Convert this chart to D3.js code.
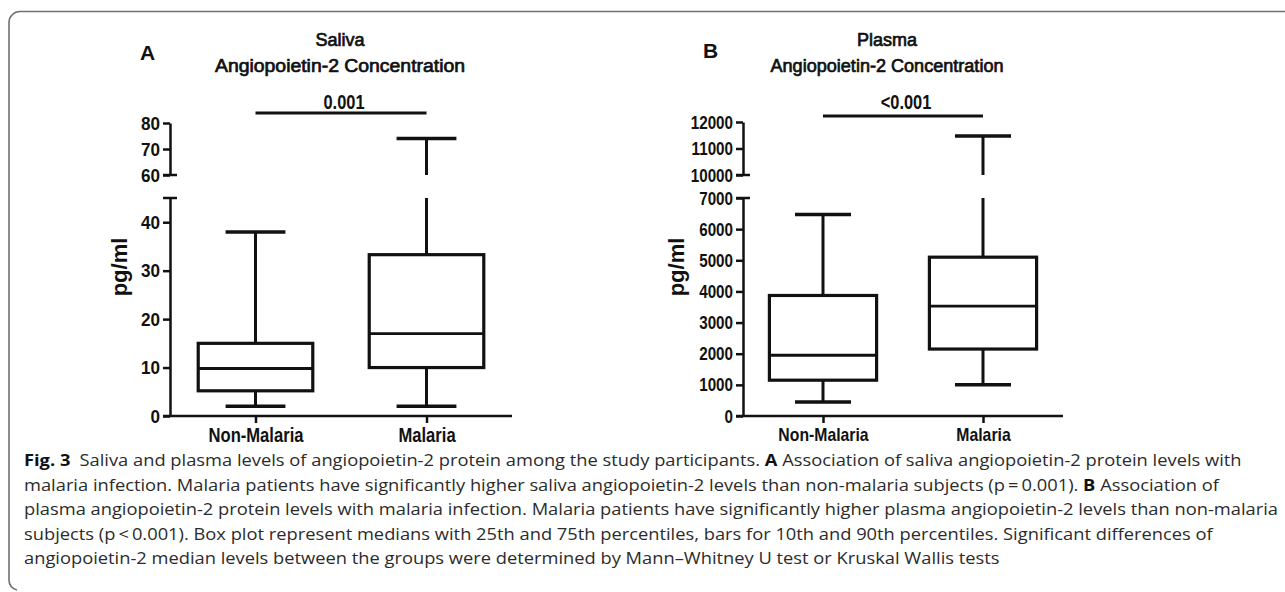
<!DOCTYPE html>
<html>
<head>
<meta charset="utf-8">
<script src="https://cdn.jsdelivr.net/npm/d3@7"></script>
<style>
  html, body { margin: 0; padding: 0; background: #fff; }
  svg { display: block; }
  .tick text, .cat, .sig { font-family: "Liberation Sans", Arial, sans-serif; font-weight: bold; fill: #111; }
  .title { font-family: "Liberation Sans", Arial, sans-serif; fill: #111; stroke: #111; stroke-width: 0.7px; }
  .letter { font-family: "Liberation Sans", Arial, sans-serif; font-weight: bold; fill: #111; }
  .ylabel { font-family: "Liberation Sans", Arial, sans-serif; font-weight: bold; fill: #111; }
  .caption { font-family: "Open Sans", "Noto Sans", sans-serif; fill: #2b2b2b; }
</style>
</head>
<body>
<div id="chart"></div>
<script>
// data
const categories = ['Non-Malaria', 'Malaria'];

const salivaP10 = [2, 2];
const salivaQ1 = [5.2, 10];
const salivaMedian = [9.8, 17];
const salivaQ3 = [15, 33.3];
const salivaP90 = [38, 74];
const salivaLowTicks = [0, 10, 20, 30, 40];
const salivaLowMax = 45;
const salivaHighTicks = [60, 70, 80];
const salivaPValue = '0.001';

const plasmaP10 = [450, 1000];
const plasmaQ1 = [1150, 2150];
const plasmaMedian = [1950, 3530];
const plasmaQ3 = [3870, 5100];
const plasmaP90 = [6470, 11470];
const plasmaLowTicks = [0, 1000, 2000, 3000, 4000, 5000, 6000, 7000];
const plasmaLowMax = 7000;
const plasmaHighTicks = [10000, 11000, 12000];
const plasmaPValue = '<0.001';

const captionLines = [
  [['Fig. 3', true], ['\u2002Saliva and plasma levels of angiopoietin-2 protein among the study participants. ', false], ['A', true], [' Association of saliva angiopoietin-2 protein levels with', false]],
  [['malaria infection. Malaria patients have significantly higher saliva angiopoietin-2 levels than non-malaria subjects (p\u2009=\u20090.001). ', false], ['B', true], [' Association of', false]],
  [['plasma angiopoietin-2 protein levels with malaria infection. Malaria patients have significantly higher plasma angiopoietin-2 levels than non-malaria', false]],
  [['subjects (p\u2009<\u20090.001). Box plot represent medians with 25th and 75th percentiles, bars for 10th and 90th percentiles. Significant differences of', false]],
  [['angiopoietin-2 median levels between the groups were determined by Mann\u2013Whitney U test or Kruskal Wallis tests', false]]
];

const W = 1285, H = 592;

const panels = [
  {
    letter: 'A', letterX: 140, letterY: 60,
    title: ['Saliva', 'Angiopoietin-2 Concentration'], titleX: 340, titleW: 250,
    axisX: 170, axisEnd: 512, tickFont: 19, tickSqueeze: 0.9, catFont: 20,
    p10: salivaP10, q1: salivaQ1, med: salivaMedian, q3: salivaQ3, p90: salivaP90,
    lowTicks: salivaLowTicks, lowMax: salivaLowMax, highTicks: salivaHighTicks,
    highTop: 123, sigY: 113, pValue: salivaPValue, ylabelX: 127
  },
  {
    letter: 'B', letterX: 703, letterY: 58,
    title: ['Plasma', 'Angiopoietin-2 Concentration'], titleX: 887, titleW: 233,
    axisX: 743, axisEnd: 1063, tickFont: 19, tickSqueeze: 0.8, catFont: 19,
    p10: plasmaP10, q1: plasmaQ1, med: plasmaMedian, q3: plasmaQ3, p90: plasmaP90,
    lowTicks: plasmaLowTicks, lowMax: plasmaLowMax, highTicks: plasmaHighTicks,
    highTop: 122, sigY: 116, pValue: plasmaPValue, ylabelX: 684
  }
];

const baseY = 416,
      lowTop = 198,
      highBottom = 175;

let $svg = d3.select('#chart').append('svg')
  .attr('width', W)
  .attr('height', H);

// no narrow face installed, so squeeze the glyphs instead
function condense($sel, k) {
  $sel.each(function() {
    const w = this.getComputedTextLength();
    d3.select(this)
      .attr('textLength', w * k)
      .attr('lengthAdjust', 'spacingAndGlyphs');
  });
}

// frame
$svg.append('path')
  .attr('d', `M${W} 11.5 H20 A11 11 0 0 0 9 22.5 V580 A10 10 0 0 0 17 590`)
  .attr('fill', 'none')
  .attr('stroke', '#6f6f6f')
  .attr('stroke-width', 1.6);

function drawPanel(p) {
  const $g = $svg.append('g');

  const xScale = d3.scalePoint()
    .domain(categories)
    .range([p.axisX, p.axisEnd])
    .padding(0.5);
  const step = xScale.step();

  const yLow = d3.scaleLinear()
    .domain([0, p.lowMax])
    .range([baseY, lowTop]);

  const yHigh = d3.scaleLinear()
    .domain([p.highTicks[0], p.highTicks[p.highTicks.length - 1]])
    .range([highBottom, p.highTop]);

  const y = v => v > p.lowMax ? yHigh(v) : yLow(v);

  // titles
  $g.append('text')
    .attr('class', 'letter')
    .attr('x', p.letterX)
    .attr('y', p.letterY)
    .style('font-size', '21px')
    .text(p.letter);

  p.title.forEach((t, i) => {
    const $t = $g.append('text')
      .attr('class', 'title')
      .attr('x', p.titleX)
      .attr('y', i === 0 ? 46 : 72)
      .attr('text-anchor', 'middle')
      .style('font-size', '18px')
      .text(t);
    if (i === 1) $t.attr('textLength', p.titleW).attr('lengthAdjust', 'spacingAndGlyphs');
  });

  // lower y axis
  const $yLow = $g.append('g')
    .attr('transform', `translate(${p.axisX},0)`)
    .call(d3.axisLeft(yLow).tickValues(p.lowTicks).tickSize(7).tickSizeOuter(0).tickPadding(3).tickFormat(d3.format('d')));

  // upper y axis
  const $yHigh = $g.append('g')
    .attr('transform', `translate(${p.axisX},0)`)
    .call(d3.axisLeft(yHigh).tickValues(p.highTicks).tickSize(7).tickSizeOuter(0).tickPadding(3).tickFormat(d3.format('d')));

  [$yLow, $yHigh].forEach($a => {
    $a.select('.domain').attr('stroke', '#111').attr('stroke-width', 2.5);
    $a.selectAll('.tick line').attr('stroke', '#111').attr('stroke-width', 2.5);
    $a.selectAll('.tick text').style('font-size', p.tickFont + 'px');
    condense($a.selectAll('.tick text'), p.tickSqueeze);
  });

  // break caps
  [yLow(p.lowMax), yHigh(p.highTicks[0])].forEach(cy => {
    $g.append('line')
      .attr('x1', p.axisX - 7).attr('x2', p.axisX + 7)
      .attr('y1', cy).attr('y2', cy)
      .attr('stroke', '#111').attr('stroke-width', 2.5);
  });

  // x axis
  const $x = $g.append('g')
    .attr('transform', `translate(0,${baseY})`)
    .call(d3.axisBottom(xScale).tickSize(7).tickSizeOuter(0).tickPadding(5));

  $x.select('.domain').attr('d', `M${p.axisX - 7},0H${p.axisEnd}`).attr('stroke', '#111').attr('stroke-width', 2.5);
  $x.selectAll('.tick line').attr('stroke', '#111').attr('stroke-width', 2.5);
  $x.selectAll('.tick text')
    .attr('class', 'cat')
    .style('font-size', p.catFont + 'px');
  condense($x.selectAll('.tick text'), 0.83);

  // y label
  $g.append('text')
    .attr('class', 'ylabel')
    .attr('transform', `translate(${p.ylabelX},267) rotate(-90)`)
    .attr('text-anchor', 'middle')
    .style('font-size', '22px')
    .text('pg/ml');

  // boxes
  const boxW = step * 0.67,
        capW = step * 0.35;

  categories.forEach((c, i) => {
    const cx = xScale(c);
    const $b = $g.append('g');

    // lower whisker
    $b.append('line')
      .attr('x1', cx).attr('x2', cx)
      .attr('y1', y(p.q1[i])).attr('y2', y(p.p10[i]))
      .attr('stroke', '#111').attr('stroke-width', 3);

    // upper whisker, split across the break
    if (p.p90[i] > p.lowMax) {
      $b.append('line')
        .attr('x1', cx).attr('x2', cx)
        .attr('y1', y(p.q3[i])).attr('y2', yLow(p.lowMax))
        .attr('stroke', '#111').attr('stroke-width', 3);
      $b.append('line')
        .attr('x1', cx).attr('x2', cx)
        .attr('y1', yHigh(p.highTicks[0])).attr('y2', yHigh(p.p90[i]))
        .attr('stroke', '#111').attr('stroke-width', 3);
    } else {
      $b.append('line')
        .attr('x1', cx).attr('x2', cx)
        .attr('y1', y(p.q3[i])).attr('y2', y(p.p90[i]))
        .attr('stroke', '#111').attr('stroke-width', 3);
    }

    [p.p10[i], p.p90[i]].forEach(v => {
      $b.append('line')
        .attr('x1', cx - capW / 2).attr('x2', cx + capW / 2)
        .attr('y1', y(v)).attr('y2', y(v))
        .attr('stroke', '#111').attr('stroke-width', 3.5);
    });

    $b.append('rect')
      .attr('x', cx - boxW / 2)
      .attr('y', y(p.q3[i]))
      .attr('width', boxW)
      .attr('height', y(p.q1[i]) - y(p.q3[i]))
      .attr('fill', '#fff')
      .attr('stroke', '#111')
      .attr('stroke-width', 3.2);

    $b.append('line')
      .attr('x1', cx - boxW / 2).attr('x2', cx + boxW / 2)
      .attr('y1', y(p.med[i])).attr('y2', y(p.med[i]))
      .attr('stroke', '#111').attr('stroke-width', 2.8);
  });

  // significance bar
  $g.append('line')
    .attr('x1', xScale(categories[0])).attr('x2', xScale(categories[1]))
    .attr('y1', p.sigY).attr('y2', p.sigY)
    .attr('stroke', '#111').attr('stroke-width', 3);

  const $sig = $g.append('text')
    .attr('class', 'sig')
    .attr('x', (xScale(categories[0]) + xScale(categories[1])) / 2 + 3)
    .attr('y', 109)
    .attr('text-anchor', 'middle')
    .style('font-size', '20px')
    .text(p.pValue);
  condense($sig, 0.82);
}

panels.forEach(drawPanel);

// caption
const captionX = 24,
      captionRight = 1278,
      captionTop = 466,
      lineGap = 24.5;

let $lines = captionLines.map((parts, i) => {
  const $t = $svg.append('text')
    .attr('class', 'caption')
    .attr('x', captionX)
    .attr('y', captionTop + i * lineGap)
    .style('font-size', '15.5px');
  parts.forEach(([s, bold]) => {
    $t.append('tspan')
      .style('font-weight', bold ? 'bold' : 'normal')
      .style('fill', bold ? '#111' : null)
      .text(s);
  });
  return $t;
});

// squeeze lines to the condensed width of the original caption face
const widths = $lines.map($t => $t.node().getComputedTextLength());
const squeeze = (captionRight - captionX) / widths[2];
$lines.forEach(($t, i) => {
  $t.attr('textLength', widths[i] * squeeze)
    .attr('lengthAdjust', 'spacingAndGlyphs');
});
</script>
</body>
</html>
